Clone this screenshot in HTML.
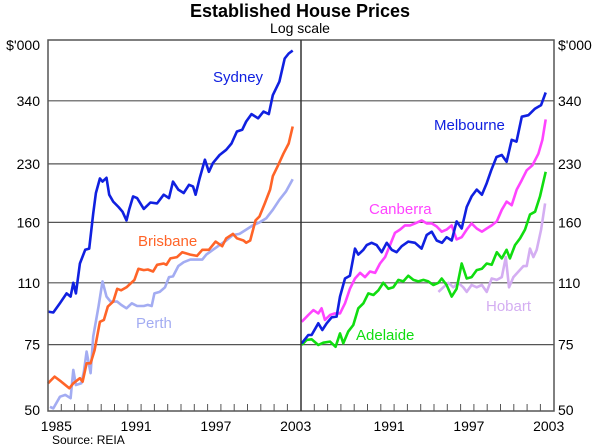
<!DOCTYPE html>
<html><head><meta charset="utf-8">
<style>
body{margin:0;background:#fff;}
svg{display:block;font-family:"Liberation Sans",Arial,sans-serif;}
</style></head>
<body>
<svg id="chart" width="600" height="448" viewBox="0 0 600 448" xmlns="http://www.w3.org/2000/svg">
<text x="300" y="17" text-anchor="middle" font-size="18" font-weight="bold">Established House Prices</text>
<text x="300" y="33" text-anchor="middle" font-size="14">Log scale</text>
<text x="40" y="50" text-anchor="end" font-size="14">$'000</text>
<text x="558" y="50" font-size="14">$'000</text>
<g id="grid"></g>
<g id="series"></g>
<rect x="48" y="40" width="506" height="371" fill="none" stroke="#555" stroke-width="1.5"/>
<line x1="301" y1="40" x2="301" y2="411" stroke="#333" stroke-width="1.5"/>
<g id="axes"></g>
<text x="52" y="444" font-size="12">Source: REIA</text>
</svg>
<script>
const yTicks=[50,75,110,160,230,340];
const leftYearLabels=[1985,1991,1997,2003];
const rightYearLabels=[1991,1997,2003];
const sydYears=[1984.0,1984.4,1984.9,1985.4,1985.7,1985.9,1986.1,1986.4,1986.8,1987.1,1987.4,1987.6,1987.9,1988.1,1988.4,1988.6,1988.9,1989.3,1989.6,1989.9,1990.1,1990.4,1990.7,1991.2,1991.7,1992.2,1992.7,1993.1,1993.4,1993.8,1994.2,1994.6,1994.9,1995.1,1995.4,1995.8,1996.1,1996.4,1996.9,1997.4,1997.8,1998.2,1998.6,1998.9,1999.3,1999.8,2000.2,2000.6,2000.9,2001.4,2001.8,2002.1,2002.4];
const sydVals=[92,91.5,97,103,101,110,103,124,135,136,169,192,210,206,211,190,182,176,171,162,173,188,186,174,181,180,190,186,206,196,192,202,200,190,210,236,219,231,243,251,261,281,284,299,313,305,318,313,352,383,442,456,464];
const brisYears=[1984.0,1984.5,1985.0,1985.6,1985.9,1986.4,1986.6,1986.9,1987.2,1987.5,1987.9,1988.2,1988.5,1988.9,1989.2,1989.5,1989.9,1990.5,1990.8,1991.2,1991.5,1991.9,1992.2,1992.7,1992.9,1993.2,1993.7,1994.1,1994.7,1995.2,1995.6,1996.1,1996.6,1997.1,1997.4,1997.9,1998.2,1998.7,1998.9,1999.2,1999.6,1999.9,2000.3,2000.7,2000.9,2001.3,2001.7,2002.1,2002.4];
const brisVals=[59,61.5,59.6,57.2,59,60.9,59.6,66.8,66.8,72.5,86.4,87.4,94.9,97.9,106,105,107,112,120,119,119.5,118,123,124,123,128,129,133,131,130,135,135,142,138,145,149,145,143,141,143,162,166,180,196,213,228,245,261,290];
const perthYears=[1984.15,1984.4,1984.9,1985.3,1985.7,1985.9,1986.1,1986.5,1986.7,1986.9,1987.2,1987.4,1987.8,1988.1,1988.4,1988.7,1989.2,1989.5,1989.9,1990.3,1990.7,1991.2,1991.5,1991.8,1992.0,1992.4,1992.8,1993.1,1993.4,1993.8,1994.2,1994.7,1995.2,1995.6,1995.9,1996.4,1996.9,1997.4,1997.9,1998.4,1998.9,1999.4,1999.9,2000.4,2000.9,2001.4,2001.9,2002.4];
const perthVals=[51,50.5,54.3,54.9,53.8,64.1,58.4,59,63.4,71.8,62.8,78.8,94.9,111,101,97.9,97.9,95.9,93.9,96.9,95.3,95.3,95.9,95.3,103,104,107,114,114.5,122,125,127,127,127,131,135,139,143,148,149,153,157,160,164,173,184,194,209];
const melbYears=[1984.05,1984.55,1984.8,1985.3,1985.6,1985.93,1986.3,1986.68,1986.93,1987.31,1987.68,1988.06,1988.31,1988.69,1988.94,1989.31,1989.69,1990.07,1990.44,1990.82,1991.19,1991.57,1992.07,1992.57,1993.07,1993.45,1993.83,1994.2,1994.6,1994.95,1995.33,1995.7,1996.08,1996.46,1996.83,1997.21,1997.6,1997.96,1998.3,1998.7,1999.1,1999.46,1999.84,2000.2,2000.6,2001.1,2001.6,2002.05,2002.4];
const melbVals=[75.6,79.6,79.6,85.6,82.1,85.6,88.8,89.2,101,113,115,136,131,135,139,141,139,133,141,135,133,138,142,141,136,148,151,143,141,146,143,161,154,176,188,196,190,204,221,240,243,233,267,264,308,311,324,331,358];
const canYears=[1984.05,1984.55,1984.93,1985.3,1985.55,1985.8,1986.18,1986.55,1986.93,1987.31,1987.68,1988.06,1988.44,1988.81,1989.19,1989.57,1989.94,1990.32,1990.69,1991.07,1991.44,1991.82,1992.2,1992.57,1993.07,1993.45,1993.83,1994.2,1994.58,1994.95,1995.33,1995.7,1996.08,1996.46,1996.83,1997.21,1997.6,1997.96,1998.34,1998.72,1999.1,1999.46,1999.84,2000.22,2000.6,2000.97,2001.4,2001.85,2002.15,2002.4];
const canVals=[86.4,90.1,92.9,91,93.9,87.4,90.1,91,91,96.9,106,113,117,114,118,117,124,129,139,150,153,157,157,159,162,159,159,156,151,153,157,144,146,153,159,154,151,154,157,161,173,182,178,196,208,221,228,245,267,303];
const adlYears=[1984.05,1984.43,1984.8,1985.3,1985.68,1986.18,1986.6,1986.93,1987.18,1987.55,1987.93,1988.31,1988.69,1989.06,1989.44,1989.82,1990.19,1990.57,1990.94,1991.32,1991.69,1992.07,1992.45,1992.82,1993.2,1993.57,1993.95,1994.33,1994.58,1994.95,1995.33,1995.7,1996.08,1996.46,1996.83,1997.21,1997.6,1997.96,1998.34,1998.72,1999.1,1999.46,1999.71,2000.09,2000.47,2000.84,2001.22,2001.6,2001.97,2002.4];
const adlVals=[74.8,77.2,77.5,74.8,75.9,76.4,74,80.4,75.6,81.3,84.7,93.9,96.9,103,102,105,110,106,107,112,111,115,112,111,112,111,108.5,110,113,108.5,101,106,124,113,114,119,120,124,123,133,128,135,128,139,145,153,168,171,188,219];
const hobYears=[1994.33,1994.7,1995.08,1995.45,1995.83,1996.2,1996.46,1996.83,1997.21,1997.6,1997.96,1998.34,1998.72,1999.1,1999.4,1999.64,1999.97,2000.35,2000.72,2000.97,2001.22,2001.47,2001.72,2002.05,2002.35];
const hobVals=[104,107,110,107,110,107,104,108.5,107,108.5,104,113,112,114,129,107,114,118,122,122,136,129,135,153,180];

const NS='http://www.w3.org/2000/svg';
function yScale(v){return 410-161.3*Math.log(v/50);}
function xLeft(yr){return 48+(yr-1984)*13.3;}
function xRight(yr){return 301+(yr-1984)*13.3;}
function mk(tag,attrs,parent){const e=document.createElementNS(NS,tag);for(const k in attrs)e.setAttribute(k,attrs[k]);parent.appendChild(e);return e;}
const grid=document.getElementById('grid'),axes=document.getElementById('axes'),ser=document.getElementById('series');
yTicks.forEach(v=>{
  const y=yScale(v);
  if(v!==50){const l=mk('line',{x1:48,x2:554,y1:y,y2:y,stroke:'#555','stroke-width':1.2},grid);
  
  }
  const t1=mk('text',{x:40,y:y+5,'text-anchor':'end','font-size':14},axes);t1.textContent=v;
  
  
  const t2=mk('text',{x:558,y:y+5,'font-size':14},axes);t2.textContent=v;
  
  
});
for(let i=1;i<19;i++){
  [xLeft,xRight].forEach((f,j)=>{const x=f(1984+i);const l=mk('line',{x1:x,x2:x,y1:411,y2:404,stroke:'#555','stroke-width':1},axes);
  
  });
}
leftYearLabels.forEach(yr=>{const t=mk('text',{x:xLeft(yr)-5,y:431,'text-anchor':'middle','font-size':14},axes);t.textContent=yr;
  
  });
rightYearLabels.forEach(yr=>{const t=mk('text',{x:xRight(yr)-5,y:431,'text-anchor':'middle','font-size':14},axes);t.textContent=yr;
  
  });
function line(years,vals,xf,color,name,label,lx,ly){
  const d=years.map((yr,i)=>(i?'L':'M')+xf(yr).toFixed(1)+','+yScale(vals[i]).toFixed(1)).join('');
  const p=mk('path',{d:d,fill:'none',stroke:color,'stroke-width':2.6,'stroke-linejoin':'round'},ser);
  
  
  const t=mk('text',{x:lx,y:ly,'font-size':15,fill:color},ser);t.textContent=label;
  
  
}
line(perthYears,perthVals,xLeft,'#a3acf2','perth','Perth',136,328);
line(brisYears,brisVals,xLeft,'#ff6428','brisbane','Brisbane',138,246);
line(sydYears,sydVals,xLeft,'#1020e0','sydney','Sydney',213,82);
line(hobYears,hobVals,xRight,'#d4aef2','hobart','Hobart',486,311);
line(adlYears,adlVals,xRight,'#10dd10','adelaide','Adelaide',356,340);
line(canYears,canVals,xRight,'#ff44ff','canberra','Canberra',369,214);
line(melbYears,melbVals,xRight,'#1020e0','melbourne','Melbourne',434,130);
</script>
</body></html>
